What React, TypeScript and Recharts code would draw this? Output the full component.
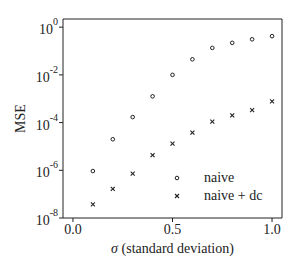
import React from 'react';
import { ScatterChart, Scatter, XAxis, YAxis } from 'recharts';

const sigma = [0.1, 0.2, 0.3, 0.4, 0.5, 0.6, 0.7, 0.8, 0.9, 1.0];
const naive = [9.3e-7, 2e-5, 1.7e-4, 1.26e-3, 1e-2, 0.045, 0.135, 0.22, 0.31, 0.42];
const naiveDc = [3.7e-8, 1.66e-7, 7.2e-7, 4.3e-6, 1.3e-5, 3.8e-5, 1.1e-4, 2e-4, 3.3e-4, 7.8e-4];
const seriesNames = ['naive', 'naive + dc'];
const xTicks = [0, 0.5, 1];
const yTicks = [1e-8, 1e-6, 1e-4, 1e-2, 1];
const xDomain = [-0.05, 1.05];
const yDomain = [1e-8, 2.2];

const FONT = 'Liberation Serif';
const INK = '#222';

const naivePts = sigma.map((s, i) => ({ x: s, y: naive[i] }));
const dcPts = sigma.map((s, i) => ({ x: s, y: naiveDc[i] }));

const Circle = (props: any) => {
  const { cx, cy } = props;
  if (cx == null || cy == null) return null;
  return <circle cx={cx} cy={cy} r={1.8} fill="none" stroke={INK} strokeWidth={1} />;
};

const Cross = (props: any) => {
  const { cx, cy } = props;
  if (cx == null || cy == null) return null;
  const d = 2;
  return (
    <g stroke={INK} strokeWidth={1.1}>
      <line x1={cx - d} y1={cy - d} x2={cx + d} y2={cy + d} />
      <line x1={cx - d} y1={cy + d} x2={cx + d} y2={cy - d} />
    </g>
  );
};

const YTick = ({ x, y, payload }: any) => {
  const exp = Math.round(Math.log10(payload.value));
  return (
    <text x={x} y={y + 7} textAnchor="end" style={{ fontFamily: FONT }} fontSize={14} fill={INK}>
      10
      <tspan dy={-9} fontSize={10}>{exp}</tspan>
    </text>
  );
};

const XLabel = ({ viewBox }: any) => {
  const cx = viewBox.x + viewBox.width / 2;
  return (
    <text x={cx} y={viewBox.y + 35} textAnchor="middle" style={{ fontFamily: FONT }} fontSize={14} fill={INK}>
      <tspan fontStyle="italic">σ</tspan> (standard deviation)
    </text>
  );
};

const YLabel = ({ viewBox }: any) => {
  const cy = viewBox.y + viewBox.height / 2;
  return (
    <text x={25} y={cy} transform={`rotate(-90, 25, ${cy})`} textAnchor="middle" style={{ fontFamily: FONT }} fontSize={14} fill={INK}>
      MSE
    </text>
  );
};

const LegendBox = () => (
  <div style={{ position: 'absolute', left: 171, top: 169, fontFamily: FONT, fontSize: 14, color: INK, lineHeight: '18px' }}>
    {seriesNames.map((name, i) => (
      <div key={name} style={{ display: 'flex', alignItems: 'center', height: 18 }}>
        <svg width={12} height={12} style={{ marginRight: 21 }}>
          {i === 0 ? <Circle cx={6} cy={6} /> : <Cross cx={6} cy={6} />}
        </svg>
        <span>{name}</span>
      </div>
    ))}
  </div>
);

export default function App() {
  return (
    <div style={{ position: 'absolute', left: 0, top: 0, width: 300, height: 273, fontFamily: FONT }}>
      <ScatterChart width={300} height={273} margin={{ top: 0, right: 0, left: 0, bottom: 0 }}>
        <XAxis
          type="number"
          dataKey="x"
          domain={xDomain}
          ticks={xTicks}
          allowDataOverflow
          height={55}
          tickSize={4}
          tickMargin={2}
          tickFormatter={(v: number) => v.toFixed(1)}
          tick={{ fontSize: 14, fill: INK, style: { fontFamily: FONT } }}
          stroke={INK}
          label={{ content: XLabel }}
        />
        <XAxis
          xAxisId="top"
          orientation="top"
          type="number"
          domain={xDomain}
          height={19}
          tickLine={false}
          tick={{ fill: 'none', fontSize: 1 }}
          stroke={INK}
        />
        <YAxis
          type="number"
          dataKey="y"
          scale="log"
          domain={yDomain}
          ticks={yTicks}
          allowDataOverflow
          width={63}
          tickSize={4}
          tickMargin={1}
          tick={<YTick />}
          stroke={INK}
          label={{ content: YLabel }}
        />
        <YAxis
          yAxisId="right"
          orientation="right"
          type="number"
          domain={[0, 1]}
          width={18}
          tickLine={false}
          tick={{ fill: 'none', fontSize: 1 }}
          stroke={INK}
        />
        <Scatter name="naive" data={naivePts} shape={Circle} isAnimationActive={false} />
        <Scatter name="naive + dc" data={dcPts} shape={Cross} isAnimationActive={false} />
      </ScatterChart>
      <LegendBox />
    </div>
  );
}
